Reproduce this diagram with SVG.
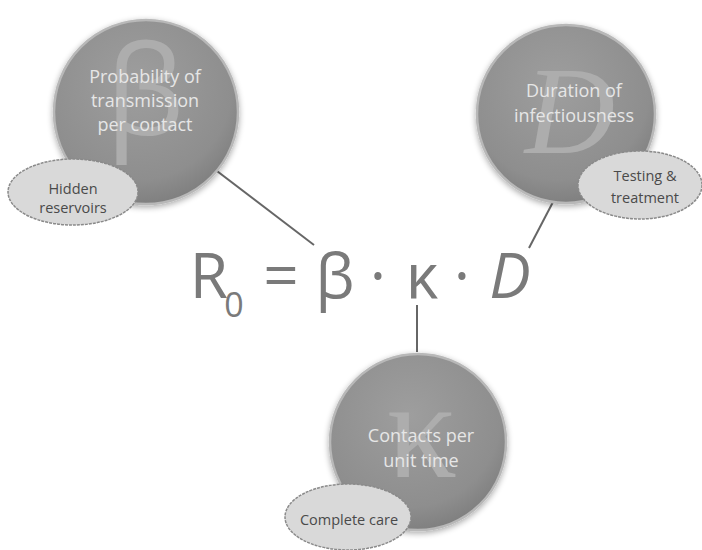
<svg xmlns="http://www.w3.org/2000/svg" width="702" height="550" viewBox="0 0 702 550">
<defs>
<radialGradient id="cg" cx="45%" cy="35%" r="65%">
<stop offset="0" stop-color="#9e9e9e"/>
<stop offset="0.8" stop-color="#8e8e8e"/>
<stop offset="1" stop-color="#808080"/>
</radialGradient>
<filter id="sh" x="-20%" y="-20%" width="140%" height="140%">
<feGaussianBlur in="SourceAlpha" stdDeviation="3"/>
<feOffset dx="0" dy="2" result="b"/>
<feComponentTransfer><feFuncA type="linear" slope="0.35"/></feComponentTransfer>
<feMerge><feMergeNode/><feMergeNode in="SourceGraphic"/></feMerge>
</filter>
<style>
.circ{fill:url(#cg);stroke:#b8b8b8;stroke-width:2.5;filter:url(#sh)}
.ell{fill:#d9d9d9;stroke:#8a8a8a;stroke-width:1.5;stroke-dasharray:3 1}
.ct{font-family:"Open Sans","DejaVu Sans",sans-serif;font-size:18px;fill:#e6e6e6;text-anchor:middle}
.et{font-family:"Open Sans","DejaVu Sans",sans-serif;font-size:14.5px;fill:#4a4a4a;text-anchor:middle}
.big{fill:#adadad;text-anchor:middle}
.eq{font-family:"Open Sans","DejaVu Sans",sans-serif;font-size:62px;fill:#7a7a7a;text-anchor:middle}
.con{stroke:#666;stroke-width:2;fill:none}
</style>
</defs>
<rect width="702" height="550" fill="#fff"/>
<g id="connectors">
<line class="con" x1="213" y1="168" x2="314" y2="245"/>
<line class="con" x1="553" y1="202" x2="529" y2="248"/>
<line class="con" x1="417" y1="305" x2="417" y2="352"/>
</g>
<g id="equation">
<text class="eq" x="209" y="298">R</text>
<text class="eq" x="234" y="317" style="font-size:34px">0</text>
<text class="eq" x="281" y="298">=</text>
<text class="eq" x="335" y="298">β</text>
<text class="eq" x="378" y="298">·</text>
<text class="eq" x="422" y="298">κ</text>
<text class="eq" x="462" y="298">·</text>
<text class="eq" x="510" y="298" style="font-style:italic">D</text>
</g>
<g id="beta">
<circle class="circ" cx="146" cy="112" r="92"/>
<text class="big" x="145" y="135" style="font-family:'Open Sans','DejaVu Sans',sans-serif;font-size:125px">β</text>
<text class="ct" x="145" y="83">Probability of</text>
<text class="ct" x="145" y="107">transmission</text>
<text class="ct" x="145" y="131">per contact</text>
</g>
<g id="hidden-reservoirs">
<ellipse class="ell" cx="73" cy="192" rx="65" ry="33"/>
<text class="et" x="73" y="194">Hidden</text>
<text class="et" x="73" y="213">reservoirs</text>
</g>
<g id="duration">
<circle class="circ" cx="566" cy="114" r="89"/>
<text class="big" x="570" y="153" style="font-family:'Liberation Serif','DejaVu Serif',serif;font-style:italic;font-size:125px">D</text>
<text class="ct" x="574" y="97">Duration of</text>
<text class="ct" x="574" y="122">infectiousness</text>
</g>
<g id="testing-treatment">
<ellipse class="ell" cx="640" cy="185" rx="62" ry="34"/>
<text class="et" x="645" y="181">Testing &amp;</text>
<text class="et" x="645" y="203">treatment</text>
</g>
<g id="kappa">
<circle class="circ" cx="418" cy="442" r="88"/>
<text class="big" x="422" y="477" style="font-family:'Liberation Serif','DejaVu Serif',serif;font-size:140px">κ</text>
<text class="ct" x="421" y="442">Contacts per</text>
<text class="ct" x="421" y="467">unit time</text>
</g>
<g id="complete-care">
<ellipse class="ell" cx="348" cy="517" rx="63" ry="33"/>
<text class="et" x="349" y="525">Complete care</text>
</g>
</svg>
